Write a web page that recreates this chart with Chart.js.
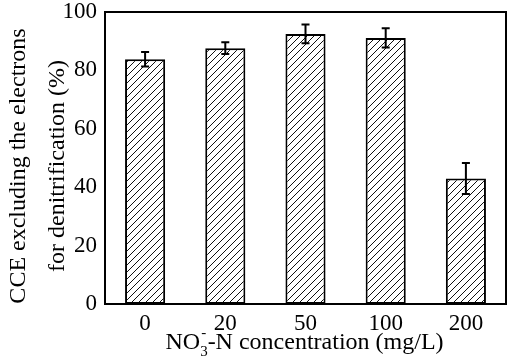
<!DOCTYPE html>
<html>
<head>
<meta charset="utf-8">
<script src="https://cdn.jsdelivr.net/npm/chart.js@4"></script>
<style>
  html, body { margin: 0; padding: 0; background: #fff; }
  #wrap { width: 510px; height: 361px; }
</style>
</head>
<body>
<div id="wrap"><canvas id="cceChart"></canvas></div>
<script>
const concentrations = ['0', '20', '50', '100', '200'];
const cceValues = [83.8, 87.6, 92.5, 91.1, 43.0];
const cceErrors = [2.5, 2.0, 3.2, 3.3, 5.3];
const yTicks = [0, 20, 40, 60, 80, 100];

const FONT = "'Liberation Serif', 'Times New Roman', serif";

function makeHatch() {
  const size = 7;
  const c = document.createElement('canvas');
  c.width = size;
  c.height = size;
  const g = c.getContext('2d');
  g.fillStyle = '#fff';
  g.fillRect(0, 0, size, size);
  g.strokeStyle = '#111';
  g.lineWidth = 1;
  g.beginPath();
  g.moveTo(-1, size + 1);
  g.lineTo(size + 1, -1);
  g.moveTo(-1, 1);
  g.lineTo(1, -1);
  g.moveTo(size - 1, size + 1);
  g.lineTo(size + 1, size - 1);
  g.stroke();
  return g.createPattern(c, 'repeat');
}

const errorBars = {
  id: 'errorBars',
  afterDatasetsDraw(chart) {
    const ctx = chart.ctx;
    const y = chart.scales.y;
    const meta = chart.getDatasetMeta(0);
    ctx.save();
    ctx.strokeStyle = '#000';
    ctx.lineWidth = 2;
    meta.data.forEach((bar, i) => {
      const top = y.getPixelForValue(cceValues[i] + cceErrors[i]);
      const bot = y.getPixelForValue(cceValues[i] - cceErrors[i]);
      ctx.beginPath();
      ctx.moveTo(bar.x, top);
      ctx.lineTo(bar.x, bot);
      ctx.moveTo(bar.x - 4, top);
      ctx.lineTo(bar.x + 4, top);
      ctx.moveTo(bar.x - 4, bot);
      ctx.lineTo(bar.x + 4, bot);
      ctx.stroke();
    });
    // frame
    const a = chart.chartArea;
    ctx.lineWidth = 2;
    ctx.strokeRect(a.left, a.top, a.right - a.left, a.bottom - a.top);
    ctx.restore();
  }
};

const axisTitles = {
  id: 'axisTitles',
  afterDraw(chart) {
    const ctx = chart.ctx;
    const a = chart.chartArea;
    ctx.save();
    ctx.fillStyle = '#000';
    // y title, two rotated lines
    ctx.font = '24px ' + FONT;
    ctx.textAlign = 'center';
    ctx.textBaseline = 'alphabetic';
    ctx.translate(25, 166);
    ctx.rotate(-Math.PI / 2);
    ctx.fillText('CCE excluding the electrons', 0, 0);
    ctx.fillText('for denitrification (%)', 0, 39);
    ctx.restore();

    // x title with sub/superscript
    ctx.save();
    ctx.fillStyle = '#000';
    ctx.textBaseline = 'alphabetic';
    ctx.textAlign = 'left';
    const big = '24px ' + FONT;
    const small = '15px ' + FONT;
    ctx.font = big;
    const w1 = ctx.measureText('NO').width;
    const w3 = ctx.measureText('-N concentration (mg/L)').width;
    ctx.font = small;
    const w2 = Math.max(ctx.measureText('3').width, ctx.measureText('-').width);
    const total = w1 + w2 + w3;
    let x = (a.left + a.right) / 2 - 1 - total / 2;
    const base = 349;
    ctx.font = big;
    ctx.fillText('NO', x, base);
    x += w1;
    ctx.font = small;
    ctx.fillText('-', x + 1, base - 12);
    ctx.fillText('3', x, base + 7);
    x += w2;
    ctx.font = big;
    ctx.fillText('-N concentration (mg/L)', x, base);
    ctx.restore();
  }
};

new Chart(document.getElementById('cceChart'), {
  type: 'bar',
  data: {
    labels: concentrations,
    datasets: [{
      data: cceValues,
      backgroundColor: makeHatch(),
      borderColor: '#000',
      borderWidth: 2,
      borderSkipped: false,
      categoryPercentage: 1,
      barPercentage: 0.5
    }]
  },
  options: {
    responsive: true,
    maintainAspectRatio: false,
    animation: false,
    devicePixelRatio: 1,
    layout: { padding: { top: 0, right: 4, left: 0, bottom: 0 } },
    plugins: {
      legend: { display: false },
      tooltip: { enabled: false }
    },
    scales: {
      x: {
        grid: { display: false, drawTicks: false },
        border: { display: false },
        ticks: { color: '#000', font: { family: FONT, size: 23 }, padding: 6 },
        afterFit(s) { s.height = 57; }
      },
      y: {
        min: 0,
        max: 100,
        afterBuildTicks(s) { s.ticks = yTicks.map(v => ({ value: v })); },
        grid: { display: false, drawTicks: false },
        border: { display: false },
        ticks: { color: '#000', font: { family: FONT, size: 23 }, padding: 8 },
        afterFit(s) {
          s.width = 105;
          s.paddingTop = 12;
          s.paddingBottom = 0;
        }
      }
    }
  },
  plugins: [errorBars, axisTitles]
});
</script>
</body>
</html>
